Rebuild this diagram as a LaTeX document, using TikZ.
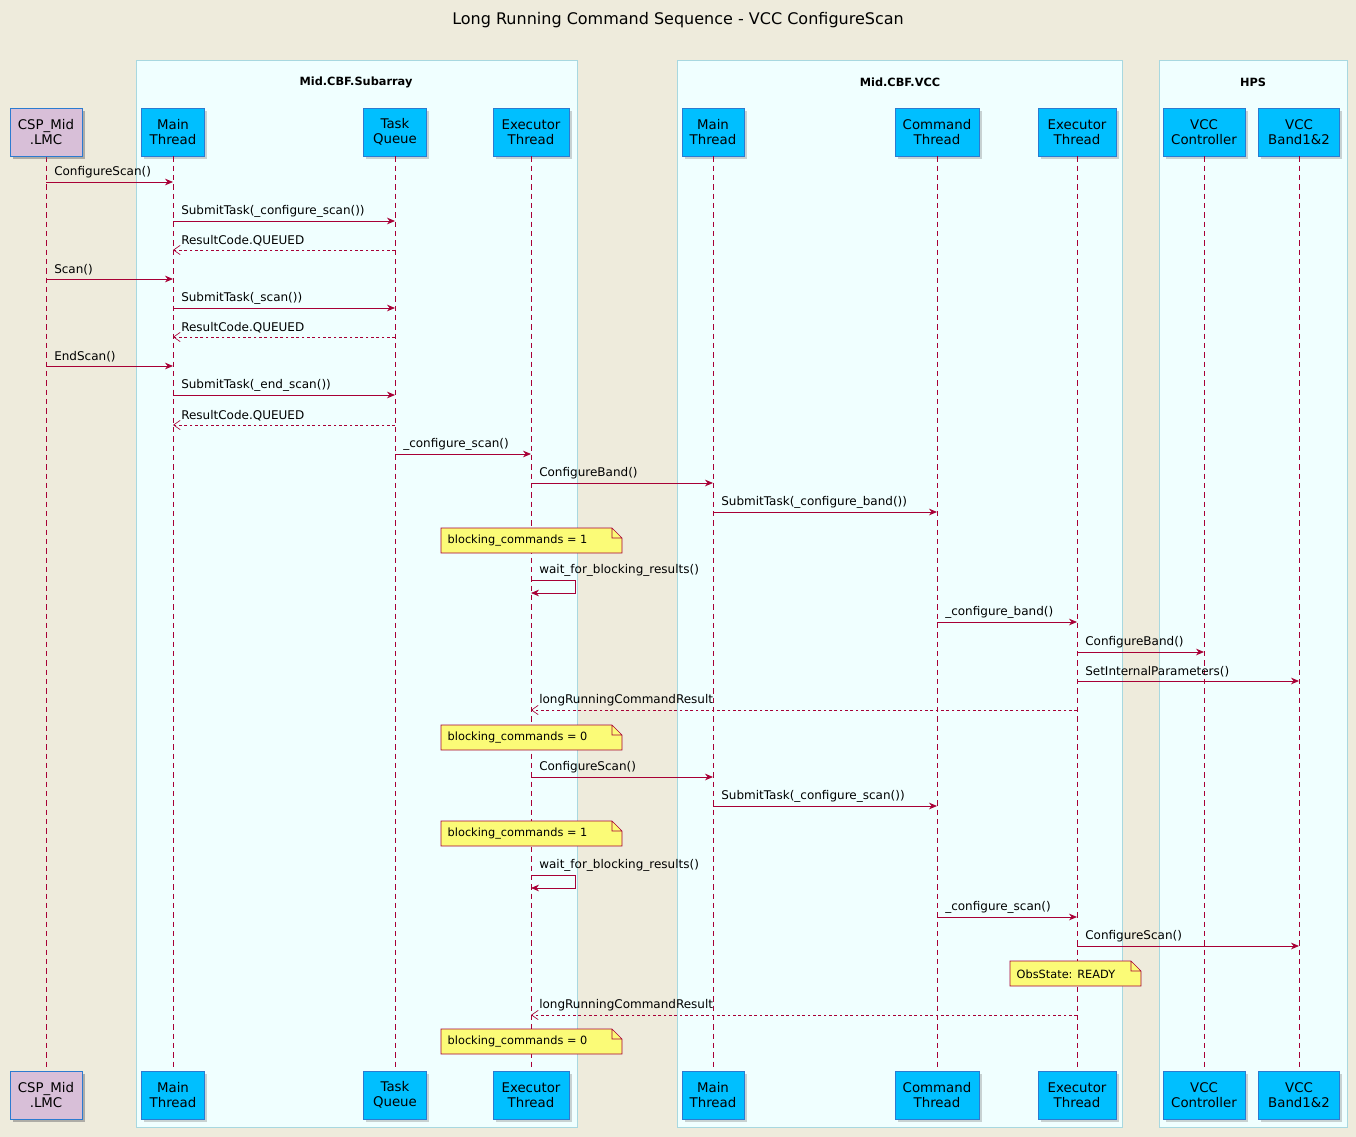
\documentclass[tikz,border=0pt]{standalone}
\usepackage{fontspec}
\setmainfont{DejaVu Sans}
\usetikzlibrary{arrows.meta, positioning, shadows, calc}
\definecolor{bgc}{HTML}{EEEBDC}
\definecolor{boxc}{HTML}{F0FFFF}
\definecolor{boxbd}{HTML}{A8D8E0}
\definecolor{partc}{HTML}{00BFFF}
\definecolor{partbd}{HTML}{2C7BD0}
\definecolor{cspc}{HTML}{D8BFD8}
\definecolor{linec}{HTML}{A80036}
\definecolor{notec}{HTML}{FBFB77}
\newcommand{\notebox}[5]{% name, x, y, w, text
  \fill[notec] (#2,#3-12) -- (#2+#4-10,#3-12) -- (#2+#4,#3-2) -- (#2+#4,#3+13) -- (#2,#3+13) -- cycle;
  \draw[linec, line width=.5pt] (#2,#3-12) -- (#2+#4-10,#3-12) -- (#2+#4,#3-2) -- (#2+#4,#3+13) -- (#2,#3+13) -- cycle
    (#2+#4-10,#3-12) |- (#2+#4,#3-2);
  \node[font=\fontsize{8.5}{10}\selectfont, anchor=west] (#1) at (#2+2,#3+1) {#5};}
\begin{document}
\begin{tikzpicture}[x=0.75pt, y=-0.75pt,
    part/.style={draw=partbd, fill=partc, align=center, minimum height=36pt, inner xsep=4pt,
      font=\fontsize{10}{11.5}\selectfont, drop shadow={opacity=.35, shadow xshift=2pt, shadow yshift=-2pt}},
    grp/.style={draw=boxbd, fill=boxc},
    life/.style={draw=linec, dashed, dash pattern=on 4pt off 3pt, line width=.5pt},
    msg/.style={draw=linec, line width=.6pt, -{Stealth[length=6pt, width=5pt]}},
    ret/.style={draw=linec, line width=.5pt, dashed, dash pattern=on 2pt off 2pt, -{Straight Barb[length=5pt, width=7pt]}},
    lbl/.style={font=\fontsize{9}{10}\selectfont, anchor=south west, inner sep=1pt}
  ]
  \useasboundingbox[fill=bgc] (0,0) rectangle (1356,1137);
  \node[font=\fontsize{12}{14}\selectfont] (title) at (678,20) {Long Running Command Sequence - VCC ConfigureScan};

  % groups
  \draw[grp] (136,60) rectangle (577,1127);
  \draw[grp] (677,60) rectangle (1122,1127);
  \draw[grp] (1159,60) rectangle (1347,1127);
  \node[font=\bfseries\fontsize{8.5}{10}\selectfont] (gSub) at (356,82) {Mid.CBF.Subarray};
  \node[font=\bfseries\fontsize{8.5}{10}\selectfont] (gVcc) at (900,82) {Mid.CBF.VCC};
  \node[font=\bfseries\fontsize{8.5}{10}\selectfont] (gHps) at (1253,82) {HPS};

  % participants, top and bottom
  \foreach \nm/\x/\txt/\w in {csp/46/{CSP\_Mid\\.LMC}/72, sMain/173/{Main\\Thread}/63, sTask/395/{Task\\Queue}/63,
      sExec/531/{Executor\\Thread}/76, vMain/713/{Main\\Thread}/62, vCmd/937/{Command\\Thread}/84,
      vExec/1077/{Executor\\Thread}/78, hCtrl/1204/{VCC\\Controller}/82, hBand/1299/{VCC\\Band1\&2}/81}{
    \node[part, minimum width=\w*0.75pt] (t-\nm) at (\x,132) {\txt};
    \node[part, minimum width=\w*0.75pt] (b-\nm) at (\x,1095) {\txt};
    \draw[life] (t-\nm) -- (b-\nm);
  }
  \node[part, fill=cspc, minimum width=54pt] at (t-csp) {CSP\_Mid\\.LMC};
  \node[part, fill=cspc, minimum width=54pt] at (b-csp) {CSP\_Mid\\.LMC};

  % messages
  \foreach \a/\b/\y/\txt/\sty in {
      csp/sMain/182/ConfigureScan()/msg, sMain/sTask/221/SubmitTask(\_configure\_scan())/msg,
      sTask/sMain/250/ResultCode.QUEUED/ret, csp/sMain/279/Scan()/msg,
      sMain/sTask/308/SubmitTask(\_scan())/msg, sTask/sMain/337/ResultCode.QUEUED/ret,
      csp/sMain/366/EndScan()/msg, sMain/sTask/395/SubmitTask(\_end\_scan())/msg,
      sTask/sMain/425/ResultCode.QUEUED/ret, sTask/sExec/454/\_configure\_scan()/msg,
      sExec/vMain/483/ConfigureBand()/msg, vMain/vCmd/512/SubmitTask(\_configure\_band())/msg,
      vCmd/vExec/622/\_configure\_band()/msg, vExec/hCtrl/652/ConfigureBand()/msg,
      vExec/hBand/681/SetInternalParameters()/msg, vExec/sExec/710/longRunningCommandResult/ret,
      sExec/vMain/777/ConfigureScan()/msg, vMain/vCmd/806/SubmitTask(\_configure\_scan())/msg,
      vCmd/vExec/917/\_configure\_scan()/msg, vExec/hBand/946/ConfigureScan()/msg,
      vExec/sExec/1015/longRunningCommandResult/ret}{
    \draw[\sty] (t-\a |- 0,\y) -- (t-\b |- 0,\y);
  }
  \foreach \a/\y/\txt in {csp/182/ConfigureScan(), sMain/221/SubmitTask(\_configure\_scan()),
      sMain/337/ResultCode.QUEUED, csp/279/Scan(), sMain/308/SubmitTask(\_scan()),
      sMain/250/ResultCode.QUEUED, csp/366/EndScan(), sMain/395/SubmitTask(\_end\_scan()),
      sMain/425/ResultCode.QUEUED, sTask/454/\_configure\_scan(), sExec/483/ConfigureBand(),
      vMain/512/SubmitTask(\_configure\_band()), vCmd/622/\_configure\_band(),
      vExec/652/ConfigureBand(), vExec/681/SetInternalParameters(),
      sExec/710/longRunningCommandResult, sExec/777/ConfigureScan(),
      vMain/806/SubmitTask(\_configure\_scan()), vCmd/917/\_configure\_scan(),
      vExec/946/ConfigureScan(), sExec/1015/longRunningCommandResult}{
    \node[lbl] at ([xshift=5pt]t-\a |- 0,\y-2) {\txt};
  }
  \node[lbl] at ([xshift=12pt]t-sMain |- 0,248) {};

  % self calls
  \draw[msg] (t-sExec |- 0,580) -- (575,580) |- (t-sExec |- 0,593);
  \node[lbl] at ([xshift=5pt]t-sExec |- 0,578) {wait\_for\_blocking\_results()};
  \draw[msg] (t-sExec |- 0,875) -- (575,875) |- (t-sExec |- 0,888);
  \node[lbl] at ([xshift=5pt]t-sExec |- 0,873) {wait\_for\_blocking\_results()};

  % notes
  \notebox{n1}{441}{540}{181}{blocking\_commands = 1}
  \notebox{n2}{441}{737}{181}{blocking\_commands = 0}
  \notebox{n3}{441}{833}{181}{blocking\_commands = 1}
  \notebox{n4}{1010}{973}{131}{ObsState: READY}
  \notebox{n5}{441}{1041}{181}{blocking\_commands = 0}
\end{tikzpicture}
\end{document}
